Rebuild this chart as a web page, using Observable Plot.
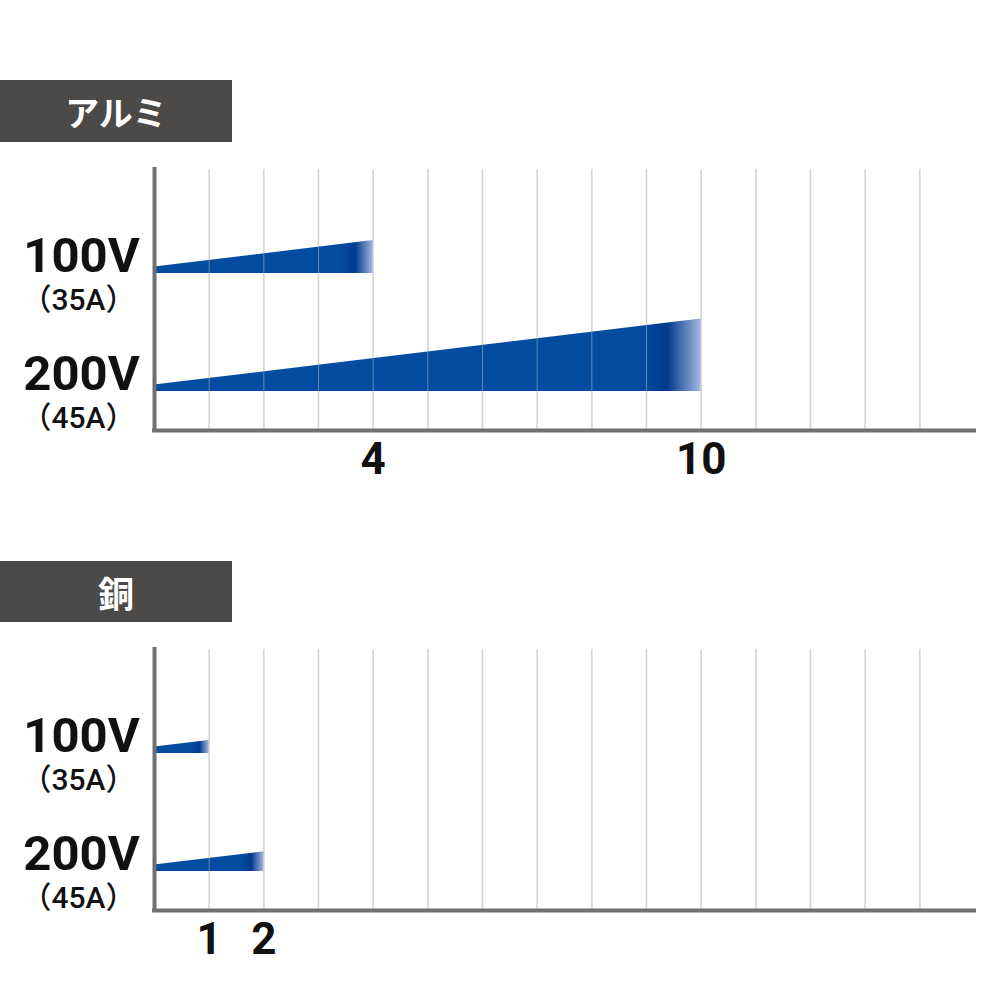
<!DOCTYPE html>
<html lang="ja">
<head>
<meta charset="utf-8">
<script src="https://cdn.jsdelivr.net/npm/d3@7"></script>
<script src="https://cdn.jsdelivr.net/npm/@observablehq/plot@0.6"></script>
<style>
  html, body { margin: 0; padding: 0; background: #fff; }
  #page { position: relative; width: 1000px; height: 1000px; overflow: hidden; background: #fff; }
  .heading {
    position: absolute; left: 0; width: 232px;
    background: #4c4a48; color: #fff;
    font-family: "Noto Sans CJK JP", sans-serif; font-weight: 700;
    display: flex; align-items: center; justify-content: center;
  }
  .panel { position: absolute; left: 0; }
</style>
</head>
<body>
<div id="page"></div>
<script>
// Material names shown in the section headings
const materials = ["アルミ", "銅"];
// Supply voltage rows and their rated currents
const voltages = ["100V", "200V"];
const currents = ["（35A）", "（45A）"];
// Maximum workable plate thickness (mm) per voltage row
const aluminumThickness = [4, 10];
const copperThickness = [1, 2];
// Thickness axis extent
const thicknessDomain = [0, 15];

// Layout and styling
const LANE_PX = 118;          // vertical distance between the two rows
const TAPER_START_PX = 6.5;   // wedge height at zero thickness
const TAPER_SLOPE_PX = 6.6;   // wedge growth per mm
const BLUE = "#034c9f", BLUE_DARK = "#003a8f", BLUE_LIGHT = "#a4b7e0";
const AXIS_GRAY = "#707070", GRID_GRAY = "#d4d4d4";

const page = document.getElementById("page");

function heading(text, top, height, size) {
  const div = document.createElement("div");
  div.className = "heading";
  div.style.top = top + "px";
  div.style.height = height + "px";
  div.style.fontSize = size + "px";
  div.textContent = text;
  page.appendChild(div);
}

function panel(values, idPrefix, top) {
  const rows = voltages.map((v, i) => ({lane: i, voltage: v, current: currents[i], value: values[i]}));
  const taper = (x) => (TAPER_START_PX + TAPER_SLOPE_PX * x) / LANE_PX;
  const gridTicks = d3.range(thicknessDomain[0] + 1, thicknessDomain[1]);

  const height = 350, marginTop = 19, marginBottom = 70;
  const inner = height - marginTop - marginBottom;
  // first row baseline sits 104px below the frame top
  const yDomain = [-104 / LANE_PX, -104 / LANE_PX + inner / LANE_PX];

  const wedges = rows.map((r) =>
    Plot.areaY([0, r.value], {
      x: (d) => d,
      y1: () => r.lane,
      y2: (d) => r.lane - taper(d),
      fill: `url(#${idPrefix}-${r.lane})`
    })
  );

  const svg = Plot.plot({
    width: 1000,
    height,
    marginTop,
    marginBottom,
    marginLeft: 154,
    marginRight: 26,
    style: {fontFamily: "Roboto, 'Noto Sans CJK JP', sans-serif", background: "transparent", color: "#111"},
    x: {domain: thicknessDomain},
    y: {domain: yDomain, reverse: true, axis: null},
    marks: [
      Plot.ruleX(gridTicks, {stroke: GRID_GRAY, strokeWidth: 1.5}),
      ...wedges,
      // faint grid showing through the wedges
      Plot.ruleX(gridTicks, {stroke: GRID_GRAY, strokeWidth: 1, strokeOpacity: 0.45}),
      Plot.ruleX([thicknessDomain[0]], {stroke: AXIS_GRAY, strokeWidth: 4, strokeLinecap: "square"}),
      Plot.ruleY([yDomain[1]], {stroke: AXIS_GRAY, strokeWidth: 4, strokeLinecap: "square"}),
      Plot.text(rows, {
        y: "lane", text: "voltage", frameAnchor: "left", textAnchor: "middle",
        dx: -73, dy: -17, fontSize: 49, fontWeight: 700, fill: "#111"
      }),
      Plot.text(rows, {
        y: "lane", text: "current", frameAnchor: "left", textAnchor: "middle",
        dx: -76, dy: 27, fontSize: 30, fontWeight: 500, fill: "#111"
      }),
      Plot.axisX(values, {
        tickSize: 0, tickPadding: 12, fontSize: 44, fontWeight: 700, fill: "#111", label: null
      })
    ]
  });

  // Horizontal gradient per wedge: solid blue, darker band, then a fade at the tip
  const xs = svg.scale("x");
  const defs = d3.select(svg).insert("defs", ":first-child");
  rows.forEach((r) => {
    const w = xs.apply(r.value) - xs.apply(0);
    const fade = 12 + 0.09 * w;
    const g = defs.append("linearGradient")
      .attr("id", `${idPrefix}-${r.lane}`)
      .attr("x1", 0).attr("x2", 1).attr("y1", 0).attr("y2", 0);
    [[0, BLUE], [(w - fade) / w, BLUE], [(w - fade * 0.55) / w, BLUE_DARK], [1, BLUE_LIGHT]]
      .forEach(([o, c]) => g.append("stop").attr("offset", Math.max(0, o)).attr("stop-color", c));
  });

  svg.classList.add("panel");
  svg.style.top = top + "px";
  page.appendChild(svg);
}

heading(materials[0], 80, 62, 34);
panel(aluminumThickness, "alu", 150);
heading(materials[1], 561, 61, 36);
panel(copperThickness, "cu", 630);
</script>
</body>
</html>
